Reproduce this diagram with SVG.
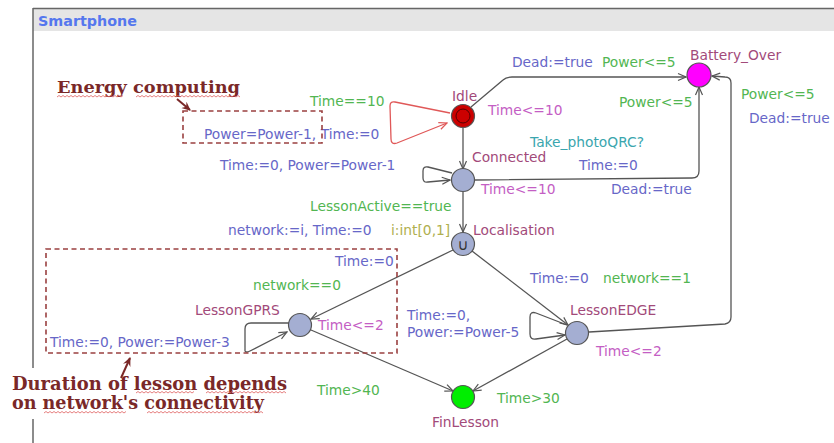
<svg xmlns="http://www.w3.org/2000/svg" width="834" height="443" viewBox="0 0 834 443">
<style>
.lbl{font-family:"DejaVu Sans","Liberation Sans",sans-serif;font-size:13.8px}
.name{fill:#a24a7a}
.grd{fill:#52b652}
.asg{fill:#6767c8}
.inv{fill:#c45ec4}
.syn{fill:#3aa6ae}
.sel{fill:#b0b050}
.edge{fill:none;stroke:#555;stroke-width:1.3}
.node{stroke:#555;stroke-width:1.2}
.ann{font-family:"DejaVu Serif","Liberation Serif",serif;font-weight:bold;fill:#7a2828}
.box{fill:none;stroke:#9a4040;stroke-width:1.6;stroke-dasharray:5,3.5}
.sq{fill:none;stroke:#e06060;stroke-width:0.8}
</style>
<defs>
<marker id="arr" viewBox="0 0 10 10" refX="9" refY="5" markerWidth="10" markerHeight="10" markerUnits="userSpaceOnUse" orient="auto">
<path d="M1,1.5 L9,5 L1,8.5" fill="none" stroke="#555" stroke-width="1.2"/>
</marker>
<marker id="arrR" viewBox="0 0 10 10" refX="9" refY="5" markerWidth="10" markerHeight="10" markerUnits="userSpaceOnUse" orient="auto">
<path d="M1,1.5 L9,5 L1,8.5" fill="none" stroke="#e05858" stroke-width="1.2"/>
</marker>
<marker id="arrA" viewBox="0 0 10 10" refX="8" refY="5" markerWidth="10" markerHeight="10" markerUnits="userSpaceOnUse" orient="auto">
<path d="M0,1 L9,5 L0,9 L3,5 z" fill="#7a2828"/>
</marker>
</defs>
<rect x="0" y="0" width="834" height="443" fill="#fff"/>
<g id="frame">
<rect x="33" y="9" width="801" height="22" fill="#e5e5e5"/>
<line x1="33" y1="8.5" x2="834" y2="8.5" stroke="#666" stroke-width="1.5"/>
<line x1="33" y1="8" x2="33" y2="443" stroke="#666" stroke-width="1.5"/>
<text x="38" y="26" font-family="'DejaVu Sans','Liberation Sans',sans-serif" font-size="14" font-weight="bold" fill="#5577ee" textLength="99" lengthAdjust="spacingAndGlyphs">Smartphone</text>
</g>
<g id="connectors">
<path class="edge" d="M450,113 L395,102 Q390,101 390,106 L391,139 Q391,145 397,143 L447,123" style="stroke:#e05858" marker-end="url(#arrR)"/>
<path class="edge" d="M471,107 L503,80 Q506,77 512,77 L686,77" marker-end="url(#arr)"/>
<path class="edge" d="M463,128 L463,169" marker-end="url(#arr)"/>
<path class="edge" d="M452,173 L428,167 Q423,166 423,171 L423,178 Q423,183 428,182 L450,180" marker-end="url(#arr)"/>
<path class="edge" d="M475,180 L692,178 Q699,178 699,171 L699,87" marker-end="url(#arr)"/>
<path class="edge" d="M589,332 L725,324 Q731,323 731,317 L731,83 Q731,77 725,77 L712,76" marker-end="url(#arr)"/>
<path class="edge" d="M463,192 L463,232" marker-end="url(#arr)"/>
<path class="edge" d="M453,250 L311,319" marker-end="url(#arr)"/>
<path class="edge" d="M472,251 L568,325" marker-end="url(#arr)"/>
<path class="edge" d="M289,323 L251,323 Q245,323 245,329 L245,351 Q246,353 250,351 L287,332" marker-end="url(#arr)"/>
<path class="edge" d="M567,325 L536,313 Q530,311 530,317 L530,334 Q530,340 536,339 L565,335" marker-end="url(#arr)"/>
<path class="edge" d="M311,330 L453,391" marker-end="url(#arr)"/>
<path class="edge" d="M567,339 L473,391" marker-end="url(#arr)"/>
</g>
<g id="Idle">
<circle class="node" cx="463" cy="116" r="11.5" fill="#cc0000"/>
<circle cx="463" cy="116" r="7" fill="none" stroke="#550000" stroke-width="1"/>
<text class="lbl name" x="452" y="101">Idle</text>
</g>
<g id="Connected">
<circle class="node" cx="463" cy="180" r="11.5" fill="#a4aed2"/>
<text class="lbl name" x="472" y="162">Connected</text>
</g>
<g id="Localisation">
<circle class="node" cx="463" cy="244" r="11.5" fill="#a4aed2"/>
<text x="463" y="249.5" text-anchor="middle" font-family="'DejaVu Sans',sans-serif" font-size="15" fill="#333">∪</text>
<text class="lbl name" x="473" y="235">Localisation</text>
</g>
<g id="LessonGPRS">
<circle class="node" cx="300" cy="325" r="11.5" fill="#a4aed2"/>
<text class="lbl name" x="195" y="315">LessonGPRS</text>
</g>
<g id="LessonEDGE">
<circle class="node" cx="577" cy="333" r="11.5" fill="#a4aed2"/>
<text class="lbl name" x="570" y="315">LessonEDGE</text>
</g>
<g id="FinLesson">
<circle class="node" cx="463" cy="397" r="11.5" fill="#00ee00"/>
<text class="lbl name" x="432" y="427">FinLesson</text>
</g>
<g id="Battery_Over">
<circle class="node" cx="699" cy="75" r="12" fill="#ff00ff"/>
<text class="lbl name" x="690" y="60">Battery_Over</text>
</g>
<g id="edge-labels">
<text class="lbl grd" x="310" y="106">Time==10</text>
<text class="lbl asg" x="204" y="139">Power=Power-1, Time:=0</text>
<text class="lbl inv" x="488" y="115">Time&lt;=10</text>
<text class="lbl asg" x="512" y="67">Dead:=true</text>
<text class="lbl grd" x="602" y="67">Power&lt;=5</text>
<text class="lbl grd" x="619" y="107">Power&lt;=5</text>
<text class="lbl grd" x="741" y="99">Power&lt;=5</text>
<text class="lbl asg" x="749" y="123">Dead:=true</text>
<text class="lbl syn" x="530" y="147">Take_photoQRC?</text>
<text class="lbl asg" x="220" y="170">Time:=0, Power=Power-1</text>
<text class="lbl asg" x="579" y="170">Time:=0</text>
<text class="lbl inv" x="481" y="194">Time&lt;=10</text>
<text class="lbl asg" x="611" y="194">Dead:=true</text>
<text class="lbl grd" x="310" y="211">LessonActive==true</text>
<text class="lbl asg" x="228" y="235">network:=i, Time:=0</text>
<text class="lbl sel" x="391" y="235">i:int[0,1]</text>
<text class="lbl asg" x="335" y="266">Time:=0</text>
<text class="lbl grd" x="253" y="290">network==0</text>
<text class="lbl asg" x="530" y="283">Time:=0</text>
<text class="lbl grd" x="603" y="283">network==1</text>
<text class="lbl inv" x="318" y="330">Time&lt;=2</text>
<text class="lbl asg" x="407" y="320">Time:=0,</text>
<text class="lbl asg" x="407" y="336.5">Power:=Power-5</text>
<text class="lbl asg" x="50" y="347">Time:=0, Power:=Power-3</text>
<text class="lbl inv" x="596" y="356">Time&lt;=2</text>
<text class="lbl grd" x="317" y="395">Time&gt;40</text>
<text class="lbl grd" x="497" y="403">Time&gt;30</text>
</g>
<g id="annotations">
<rect class="box" x="183" y="111" width="139" height="32"/>
<rect class="box" x="46" y="249" width="351" height="104"/>
<text class="ann" x="57" y="93" font-size="17" textLength="183" lengthAdjust="spacingAndGlyphs">Energy computing</text>
<path class="sq" d="M57,97 l2,-1.5 l2,1.5 l2,-1.5 l2,1.5 l2,-1.5 l2,1.5 l2,-1.5 l2,1.5 l2,-1.5 l2,1.5 l2,-1.5 l2,1.5 l2,-1.5 l2,1.5 l2,-1.5 l2,1.5 l2,-1.5 l2,1.5 l2,-1.5 l2,1.5 l2,-1.5 l2,1.5 l2,-1.5 l2,1.5 l2,-1.5 l2,1.5 l2,-1.5 l2,1.5 l2,-1.5 l2,1.5 l2,-1.5 l2,1.5 l2,-1.5"/>
<path class="sq" d="M136,97 l2,-1.5 l2,1.5 l2,-1.5 l2,1.5 l2,-1.5 l2,1.5 l2,-1.5 l2,1.5 l2,-1.5 l2,1.5 l2,-1.5 l2,1.5 l2,-1.5 l2,1.5 l2,-1.5 l2,1.5 l2,-1.5 l2,1.5 l2,-1.5 l2,1.5 l2,-1.5 l2,1.5 l2,-1.5 l2,1.5 l2,-1.5 l2,1.5 l2,-1.5 l2,1.5 l2,-1.5 l2,1.5 l2,-1.5 l2,1.5 l2,-1.5 l2,1.5 l2,-1.5 l2,1.5 l2,-1.5 l2,1.5 l2,-1.5 l2,1.5 l2,-1.5 l2,1.5 l2,-1.5 l2,1.5 l2,-1.5 l2,1.5 l2,-1.5 l2,1.5 l2,-1.5 l2,1.5 l2,-1.5 l2,1.5"/>
<line x1="177" y1="99" x2="190" y2="110" stroke="#7a2828" stroke-width="2" marker-end="url(#arrA)"/>
<rect x="8" y="368" width="290" height="51" fill="#fff"/>
<text class="ann" x="12" y="390" font-size="18" textLength="275" lengthAdjust="spacingAndGlyphs">Duration of lesson depends</text>
<text class="ann" x="12" y="409" font-size="18" textLength="252" lengthAdjust="spacingAndGlyphs">on network's connectivity</text>
<line x1="121" y1="378" x2="130" y2="358" stroke="#7a2828" stroke-width="2" marker-end="url(#arrA)"/>
<path class="sq" d="M136,393 l2,-1.5 l2,1.5 l2,-1.5 l2,1.5 l2,-1.5 l2,1.5 l2,-1.5 l2,1.5 l2,-1.5 l2,1.5 l2,-1.5 l2,1.5 l2,-1.5 l2,1.5 l2,-1.5 l2,1.5 l2,-1.5 l2,1.5 l2,-1.5 l2,1.5 l2,-1.5 l2,1.5 l2,-1.5 l2,1.5 l2,-1.5 l2,1.5 l2,-1.5 l2,1.5 l2,-1.5"/>
<path class="sq" d="M206,393 l2,-1.5 l2,1.5 l2,-1.5 l2,1.5 l2,-1.5 l2,1.5 l2,-1.5 l2,1.5 l2,-1.5 l2,1.5 l2,-1.5 l2,1.5 l2,-1.5 l2,1.5 l2,-1.5 l2,1.5 l2,-1.5 l2,1.5 l2,-1.5 l2,1.5 l2,-1.5 l2,1.5 l2,-1.5 l2,1.5 l2,-1.5 l2,1.5 l2,-1.5 l2,1.5 l2,-1.5 l2,1.5 l2,-1.5 l2,1.5 l2,-1.5 l2,1.5 l2,-1.5 l2,1.5 l2,-1.5 l2,1.5 l2,-1.5 l2,1.5"/>
<path class="sq" d="M44,413 l2,-1.5 l2,1.5 l2,-1.5 l2,1.5 l2,-1.5 l2,1.5 l2,-1.5 l2,1.5 l2,-1.5 l2,1.5 l2,-1.5 l2,1.5 l2,-1.5 l2,1.5 l2,-1.5 l2,1.5 l2,-1.5 l2,1.5 l2,-1.5 l2,1.5 l2,-1.5 l2,1.5 l2,-1.5 l2,1.5 l2,-1.5 l2,1.5 l2,-1.5 l2,1.5 l2,-1.5 l2,1.5 l2,-1.5 l2,1.5 l2,-1.5 l2,1.5 l2,-1.5 l2,1.5 l2,-1.5 l2,1.5 l2,-1.5 l2,1.5 l2,-1.5"/>
<path class="sq" d="M147,413 l2,-1.5 l2,1.5 l2,-1.5 l2,1.5 l2,-1.5 l2,1.5 l2,-1.5 l2,1.5 l2,-1.5 l2,1.5 l2,-1.5 l2,1.5 l2,-1.5 l2,1.5 l2,-1.5 l2,1.5 l2,-1.5 l2,1.5 l2,-1.5 l2,1.5 l2,-1.5 l2,1.5 l2,-1.5 l2,1.5 l2,-1.5 l2,1.5 l2,-1.5 l2,1.5 l2,-1.5 l2,1.5 l2,-1.5 l2,1.5 l2,-1.5 l2,1.5 l2,-1.5 l2,1.5 l2,-1.5 l2,1.5 l2,-1.5 l2,1.5 l2,-1.5 l2,1.5 l2,-1.5 l2,1.5 l2,-1.5 l2,1.5 l2,-1.5 l2,1.5 l2,-1.5 l2,1.5 l2,-1.5 l2,1.5 l2,-1.5 l2,1.5 l2,-1.5 l2,1.5 l2,-1.5 l2,1.5"/>
</g>
</svg>
